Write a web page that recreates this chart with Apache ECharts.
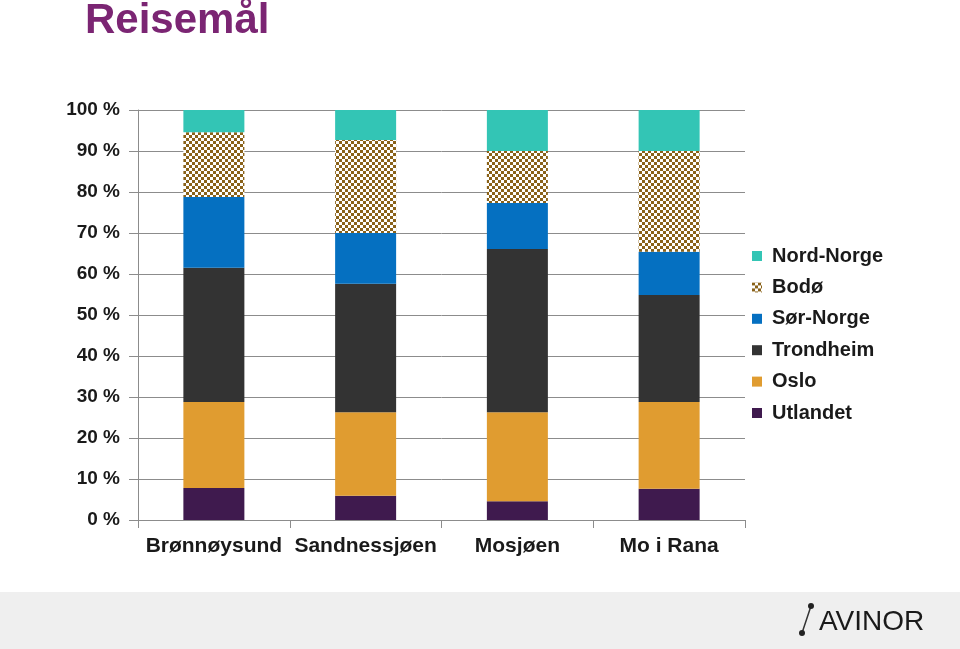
<!DOCTYPE html>
<html>
<head>
<meta charset="utf-8">
<script src="https://cdn.jsdelivr.net/npm/echarts@6/dist/echarts.min.js"></script>
<style>html,body{margin:0;padding:0;background:#fff}#c{width:960px;height:649px}</style>
</head>
<body>
<div id="c"></div>
<script>
var categories = ['Brønnøysund', 'Sandnessjøen', 'Mosjøen', 'Mo i Rana'];
var utlandet   = [7.8, 5.9, 4.6, 7.6];
var oslo       = [21.0, 20.4, 21.7, 21.2];
var trondheim  = [32.7, 31.3, 39.8, 26.1];
var sorNorge   = [17.3, 12.4, 11.2, 10.5];
var bodo       = [15.8, 22.7, 12.7, 24.6];
var nordNorge  = [5.4, 7.3, 10.0, 10.0];
var legendOrder = ['Nord-Norge', 'Bodø', 'Sør-Norge', 'Trondheim', 'Oslo', 'Utlandet'];

function checker() {
  var cv = document.createElement('canvas');
  cv.width = 6; cv.height = 6;
  var ctx = cv.getContext('2d');
  ctx.fillStyle = '#ffffff'; ctx.fillRect(0, 0, 6, 6);
  ctx.fillStyle = '#8a6219';
  ctx.fillRect(0, 0, 3, 3); ctx.fillRect(3, 3, 3, 3);
  return cv;
}
var bodoColor = { image: checker(), repeat: 'repeat' };

function s(name, data, color) {
  return { name: name, type: 'bar', stack: 'all', data: data, barWidth: 61,
    itemStyle: { color: color }, emphasis: { disabled: true } };
}

var chart = echarts.init(document.getElementById('c'), null, { renderer: 'canvas' });
chart.setOption({
  animation: false,
  backgroundColor: '#ffffff',
  grid: { left: 138, right: 215, top: 110, bottom: 129 },
  legend: {
    data: legendOrder, orient: 'vertical', left: 752, top: 246, padding: 0,
    itemWidth: 10, itemHeight: 10, itemGap: 11.4, icon: 'rect',
    textStyle: { fontFamily: 'Liberation Sans, Arial', fontWeight: 'bold', fontSize: 20, color: '#1a1a1a', padding: [0, 0, 0, 5] }
  },
  xAxis: {
    type: 'category', data: categories,
    axisLine: { lineStyle: { color: '#8c8c8c', width: 1 } },
    axisTick: { show: true, length: 8, lineStyle: { color: '#8c8c8c' } },
    axisLabel: { fontFamily: 'Liberation Sans, Arial', fontWeight: 'bold', fontSize: 21, color: '#1a1a1a', margin: 16, interval: 0 }
  },
  yAxis: {
    type: 'value', min: 0, max: 100, interval: 10,
    axisLine: { show: true, lineStyle: { color: '#8c8c8c', width: 1 } },
    axisTick: { show: true, length: 9, lineStyle: { color: '#8c8c8c' } },
    splitLine: { lineStyle: { color: '#8c8c8c', width: 1 } },
    axisLabel: { formatter: '{value} %', fontFamily: 'Liberation Sans, Arial', fontWeight: 'bold', fontSize: 19, color: '#1a1a1a', margin: 18 }
  },
  series: [
    s('Utlandet', utlandet, '#3f1a4e'),
    s('Oslo', oslo, '#e09c30'),
    s('Trondheim', trondheim, '#333333'),
    s('Sør-Norge', sorNorge, '#0570c1'),
    s('Bodø', bodo, bodoColor),
    s('Nord-Norge', nordNorge, '#33c5b5')
  ],
  graphic: [
    { type: 'text', left: 85, top: 0, style: { text: 'Reisemål', font: 'bold 42px "Liberation Sans", Arial', fill: '#7b2573' } },
    { type: 'rect', shape: { x: 0, y: 592, width: 960, height: 57 }, style: { fill: '#efefef' }, z: -1 },
    { type: 'line', shape: { x1: 802, y1: 633, x2: 811, y2: 606 }, style: { stroke: '#333', lineWidth: 1.5 } },
    { type: 'circle', shape: { cx: 802, cy: 633, r: 3 }, style: { fill: '#222' } },
    { type: 'circle', shape: { cx: 811, cy: 606, r: 3 }, style: { fill: '#222' } },
    { type: 'text', x: 819, y: 622, style: { text: 'AVINOR', font: '28px "Liberation Sans", Arial', fill: '#1a1a1a', verticalAlign: 'middle' } }
  ]
});
</script>
</body>
</html>
